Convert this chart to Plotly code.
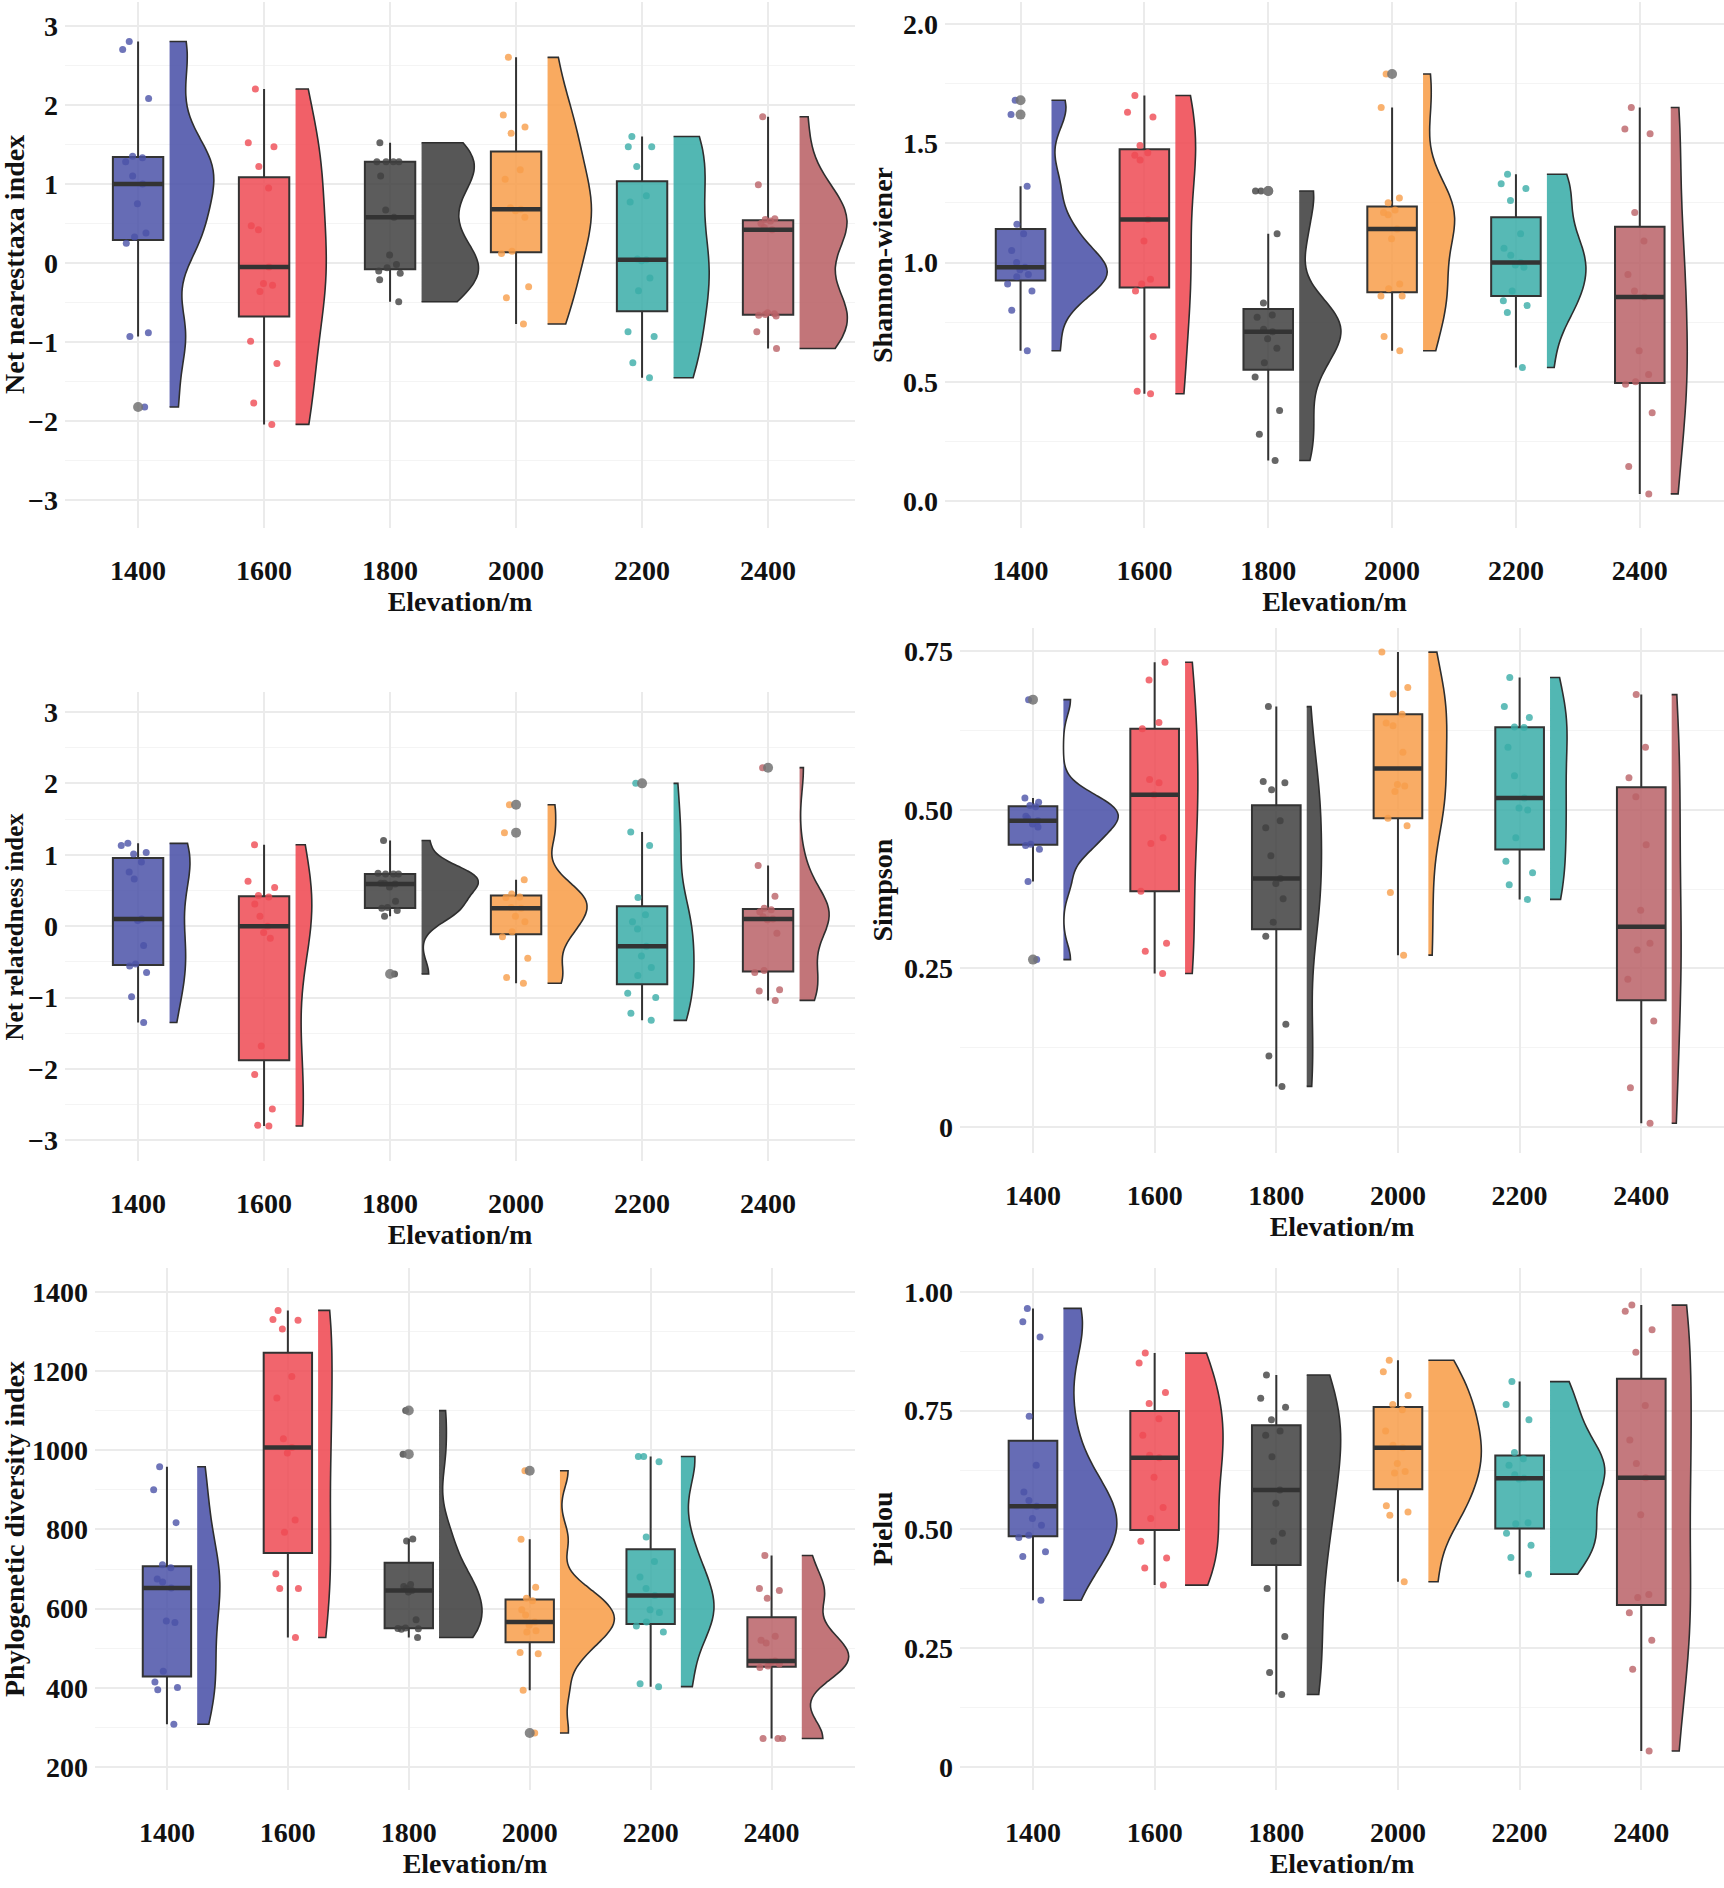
import numpy as np
import plotly.graph_objects as go

elevations = ['1400', '1600', '1800', '2000', '2200', '2400']
colors = ['#4B52A8', '#EF4A53', '#404040', '#F89E4A', '#3AADA8', '#BA6267']

# one list of samples per elevation
nti = [
    [2.8, 2.7, 2.08, 1.35, 1.33, 1.28, 1.1, 1.0, 0.75, 0.38, 0.33, 0.25, -0.88, -0.93, -1.82],
    [2.2, 1.52, 1.47, 1.22, 0.95, 0.47, 0.42, -0.05, -0.26, -0.28, -0.36, -0.99, -1.27, -1.77, -2.04],
    [1.52, 1.28, 1.28, 1.28, 1.28, 1.1, 0.67, 0.58, 0.1, -0.02, -0.06, -0.1, -0.13, -0.21, -0.49],
    [2.6, 1.87, 1.72, 1.64, 1.18, 1.06, 0.7, 0.68, 0.66, 0.58, 0.15, 0.12, -0.3, -0.44, -0.77],
    [1.6, 1.47, 1.47, 1.22, 0.85, 0.77, 0.05, 0.04, 0.03, -0.19, -0.35, -0.87, -0.93, -1.26, -1.45],
    [1.85, 0.99, 0.56, 0.55, 0.53, 0.5, 0.45, 0.42, -0.63, -0.64, -0.65, -0.66, -0.67, -0.87, -1.08],
]
shannon = [
    [1.68, 1.62, 1.32, 1.16, 1.12, 1.05, 1.0, 0.98, 0.97, 0.95, 0.94, 0.91, 0.88, 0.8, 0.63],
    [1.7, 1.63, 1.61, 1.49, 1.46, 1.45, 1.43, 1.18, 1.09, 0.93, 0.91, 0.88, 0.69, 0.46, 0.45],
    [1.3, 1.3, 1.12, 0.83, 0.78, 0.77, 0.72, 0.71, 0.68, 0.64, 0.58, 0.52, 0.38, 0.28, 0.17],
    [1.79, 1.65, 1.27, 1.25, 1.22, 1.21, 1.2, 1.14, 1.1, 0.91, 0.89, 0.86, 0.86, 0.69, 0.63],
    [1.37, 1.33, 1.31, 1.26, 1.12, 1.06, 1.03, 1.0, 0.99, 0.98, 0.88, 0.84, 0.82, 0.79, 0.56],
    [1.65, 1.56, 1.54, 1.21, 1.09, 0.95, 0.88, 0.855, 0.63, 0.53, 0.5, 0.49, 0.37, 0.145, 0.03],
]
nri = [
    [1.16, 1.13, 1.03, 1.01, 0.9, 0.76, 0.66, 0.1, 0.08, -0.27, -0.53, -0.56, -0.65, -0.99, -1.35],
    [1.14, 0.63, 0.54, 0.43, 0.41, 0.31, 0.14, 0.0, -0.09, -0.17, -1.68, -2.08, -2.56, -2.79, -2.8],
    [1.2, 0.74, 0.73, 0.73, 0.73, 0.6, 0.6, 0.59, 0.55, 0.35, 0.26, 0.25, 0.22, 0.14, -0.67],
    [1.7, 1.31, 0.65, 0.45, 0.41, 0.4, 0.26, 0.25, 0.14, 0.06, -0.08, -0.15, -0.45, -0.72, -0.8],
    [2.0, 1.32, 1.13, 0.4, 0.16, 0.06, -0.04, -0.28, -0.42, -0.58, -0.69, -0.94, -1.0, -1.22, -1.32],
    [2.22, 0.85, 0.42, 0.25, 0.23, 0.2, 0.13, 0.1, 0.09, -0.1, -0.62, -0.65, -0.89, -0.91, -1.04],
]
simpson = [
    [0.674, 0.519, 0.512, 0.507, 0.505, 0.49, 0.487, 0.483, 0.478, 0.473, 0.446, 0.444, 0.438, 0.387, 0.264],
    [0.733, 0.705, 0.638, 0.628, 0.548, 0.543, 0.524, 0.456, 0.447, 0.372, 0.29, 0.277, 0.242],
    [0.663, 0.545, 0.543, 0.532, 0.483, 0.472, 0.428, 0.392, 0.384, 0.36, 0.323, 0.301, 0.162, 0.112, 0.064],
    [0.749, 0.693, 0.683, 0.651, 0.637, 0.633, 0.591, 0.54, 0.538, 0.529, 0.487, 0.475, 0.37, 0.271],
    [0.709, 0.663, 0.646, 0.631, 0.63, 0.599, 0.554, 0.519, 0.503, 0.5, 0.456, 0.419, 0.401, 0.382, 0.359],
    [0.682, 0.599, 0.551, 0.521, 0.445, 0.342, 0.29, 0.279, 0.233, 0.167, 0.062, 0.006],
]
pd_index = [
    [958, 900, 817, 711, 703, 675, 667, 652, 569, 565, 442, 415, 401, 395, 308],
    [1353, 1330, 1328, 1306, 1186, 1132, 1029, 1007, 993, 824, 793, 688, 651, 651, 527],
    [1100, 990, 776, 771, 661, 656, 651, 646, 642, 572, 551, 550, 549, 548, 527],
    [948, 775, 654, 626, 620, 597, 584, 566, 558, 544, 541, 489, 486, 394, 286],
    [984, 984, 971, 781, 719, 680, 651, 633, 597, 590, 566, 556, 541, 410, 403],
    [734, 651, 646, 626, 530, 520, 513, 468, 465, 460, 455, 451, 272, 272, 272],
]
pielou = [
    [0.965, 0.937, 0.905, 0.738, 0.635, 0.579, 0.561, 0.549, 0.523, 0.509, 0.488, 0.483, 0.453, 0.443, 0.351],
    [0.871, 0.85, 0.788, 0.765, 0.733, 0.698, 0.656, 0.651, 0.61, 0.546, 0.523, 0.475, 0.44, 0.419, 0.383],
    [0.825, 0.776, 0.757, 0.731, 0.707, 0.698, 0.653, 0.583, 0.555, 0.492, 0.475, 0.376, 0.275, 0.199, 0.153],
    [0.856, 0.832, 0.782, 0.763, 0.752, 0.707, 0.677, 0.672, 0.639, 0.622, 0.619, 0.55, 0.537, 0.53, 0.39],
    [0.811, 0.763, 0.731, 0.662, 0.649, 0.635, 0.615, 0.608, 0.606, 0.514, 0.512, 0.492, 0.467, 0.441, 0.406],
    [0.972, 0.959, 0.92, 0.873, 0.761, 0.688, 0.639, 0.609, 0.531, 0.363, 0.357, 0.325, 0.267, 0.206, 0.034],
]

ticks_int = [-3, -2, -1, 0, 1, 2, 3]
labels_int = ['\u22123', '\u22122', '\u22121', '0', '1', '2', '3']
ticks_shannon = [0, 0.5, 1.0, 1.5, 2.0]
labels_shannon = ['0.0', '0.5', '1.0', '1.5', '2.0']
ticks_simpson = [0, 0.25, 0.5, 0.75]
labels_simpson = ['0', '0.25', '0.50', '0.75']
ticks_pd = [200, 400, 600, 800, 1000, 1200, 1400]
labels_pd = ['200', '400', '600', '800', '1000', '1200', '1400']
ticks_pielou = [0, 0.25, 0.5, 0.75, 1.0]
labels_pielou = ['0', '0.25', '0.50', '0.75', '1.00']

W, H = 1724, 1888
FONT = 'Liberation Serif'

# pixel boxes of each panel: x0, x1 and y0(top), y1(bottom); tx = y title centre, fs = its size
panels = [
    dict(data=nti, title='Net nearesttaxa index', tv=ticks_int, tt=labels_int, minor=0.5,
         yr=[-3.35, 3.30], xr=[0.42, 6.69], px=[65, 855], py=[2, 528], tx=14, fs=28),
    dict(data=shannon, title='Shannon-wiener', tv=ticks_shannon, tt=labels_shannon, minor=0.25,
         yr=[-0.113, 2.092], xr=[0.39, 6.68], px=[945, 1724], py=[2, 528], tx=882, fs=28),
    dict(data=nri, title='Net relatedness index', tv=ticks_int, tt=labels_int, minor=0.5,
         yr=[-3.29, 3.28], xr=[0.42, 6.69], px=[65, 855], py=[692, 1161], tx=14, fs=25),
    dict(data=simpson, title='Simpson', tv=ticks_simpson, tt=labels_simpson, minor=0.125,
         yr=[-0.041, 0.787], xr=[0.40, 6.68], px=[960, 1724], py=[628, 1153], tx=882, fs=28),
    dict(data=pd_index, title='Phylogenetic diversity index', tv=ticks_pd, tt=labels_pd, minor=100,
         yr=[142, 1460], xr=[0.405, 6.69], px=[95, 855], py=[1268, 1790], tx=14, fs=28),
    dict(data=pielou, title='Pielou', tv=ticks_pielou, tt=labels_pielou, minor=0.125,
         yr=[-0.048, 1.05], xr=[0.40, 6.68], px=[960, 1724], py=[1268, 1790], tx=882, fs=28),
]


def rgba(hx, a):
    h = hx.lstrip('#')
    r, g, b = int(h[0:2], 16), int(h[2:4], 16), int(h[4:6], 16)
    return f'rgba({r},{g},{b},{a})'


def nrd0(v):
    # same rule as R's bw.nrd0
    v = np.asarray(v, dtype=float)
    hi = v.std(ddof=1)
    q75, q25 = np.percentile(v, [75, 25])
    lo = min(hi, (q75 - q25) / 1.34)
    if lo <= 0:
        lo = hi
    return 0.9 * lo * len(v) ** -0.2


def peak_density(v):
    # highest point of the gaussian kde over the data range
    v = np.asarray(v, dtype=float)
    bw = nrd0(v)
    t = np.linspace(v.min(), v.max(), 512)
    d = np.exp(-0.5 * ((t[:, None] - v[None, :]) / bw) ** 2).sum(axis=1)
    return d.max() / (len(v) * bw * np.sqrt(2 * np.pi))


fig = go.Figure()
layout = {}
notes = []
pos = list(range(1, len(elevations) + 1))
tick_font = dict(family=FONT, size=28, color='#111111', weight='bold')

for k, p in enumerate(panels):
    n = '' if k == 0 else str(k + 1)
    xa, ya = 'x' + n, 'y' + n
    peaks = [peak_density(v) for v in p['data']]
    top = max(peaks)
    # half violins, scaled by area like ggplot
    for i, vals in enumerate(p['data']):
        fig.add_trace(go.Violin(
            y=vals, x0=pos[i] + 0.25, side='positive', width=0.9 * peaks[i] / top,
            scalemode='width', spanmode='hard',
            bandwidth=nrd0(vals), points=False,
            fillcolor=rgba(colors[i], 0.88), line=dict(color='#2E2E2E', width=1.6),
            xaxis=xa, yaxis=ya, showlegend=False, hoverinfo='skip'))
    # boxes with jittered points
    for i, vals in enumerate(p['data']):
        fig.add_trace(go.Box(
            y=vals, x0=pos[i], width=0.4, boxpoints='all', jitter=0.7, pointpos=0,
            quartilemethod='inclusive', whiskerwidth=0,
            fillcolor=rgba(colors[i], 0.85), line=dict(color='#333333', width=2),
            marker=dict(color=rgba(colors[i], 0.8), size=7),
            xaxis=xa, yaxis=ya, showlegend=False, hoverinfo='skip'))
    # thick median bars
    mx, my = [], []
    for i, vals in enumerate(p['data']):
        m = float(np.median(vals))
        mx += [pos[i] - 0.2, pos[i] + 0.2, None]
        my += [m, m, None]
    fig.add_trace(go.Scatter(x=mx, y=my, mode='lines', line=dict(color='#333333', width=4.5),
                             xaxis=xa, yaxis=ya, showlegend=False, hoverinfo='skip'))
    # outliers
    for i, vals in enumerate(p['data']):
        fig.add_trace(go.Box(
            y=vals, x0=pos[i], width=0.4, boxpoints='outliers', jitter=0, pointpos=0,
            quartilemethod='inclusive', fillcolor='rgba(0,0,0,0)',
            line=dict(color='rgba(0,0,0,0)', width=0),
            marker=dict(color='rgba(115,115,115,0.85)', size=10),
            xaxis=xa, yaxis=ya, showlegend=False, hoverinfo='skip'))

    y0, y1 = 1 - p['py'][1] / H, 1 - p['py'][0] / H
    layout['xaxis' + n] = dict(
        domain=[p['px'][0] / W, p['px'][1] / W], range=p['xr'], anchor=ya,
        tickmode='array', tickvals=pos, ticktext=elevations,
        showgrid=True, gridcolor='#EBEBEB', gridwidth=1.6, zeroline=False, showline=False,
        ticks='', ticklabelstandoff=23, tickfont=tick_font,
        title=dict(text='Elevation/m', font=tick_font, standoff=4))
    layout['yaxis' + n] = dict(
        domain=[y0, y1], range=p['yr'], anchor=xa,
        tickmode='array', tickvals=p['tv'], ticktext=p['tt'],
        showgrid=True, gridcolor='#EBEBEB', gridwidth=1.6, zeroline=False, showline=False,
        minor=dict(tick0=0, dtick=p['minor'], showgrid=True, gridcolor='#F4F4F4', gridwidth=1),
        ticks='', ticklabelstandoff=6, tickfont=tick_font)
    # y title as rotated text, centred on the panel
    notes.append(dict(text=p['title'], xref='paper', yref='paper', x=p['tx'] / W, y=(y0 + y1) / 2,
                      xanchor='center', yanchor='middle', textangle=-90, showarrow=False,
                      font=dict(tick_font, size=p['fs'])))

fig.update_layout(
    width=W, height=H, margin=dict(l=0, r=0, t=0, b=0),
    paper_bgcolor='white', plot_bgcolor='white',
    boxmode='overlay', violinmode='overlay',
    font=dict(family=FONT, size=28, weight='bold'),
    annotations=notes,
    **layout)

# drop the default page margin so the figure sits at the corner of the window
fig.write_html('out.html', config={'displayModeBar': False},
               post_script="document.body.style.margin='0px';")
